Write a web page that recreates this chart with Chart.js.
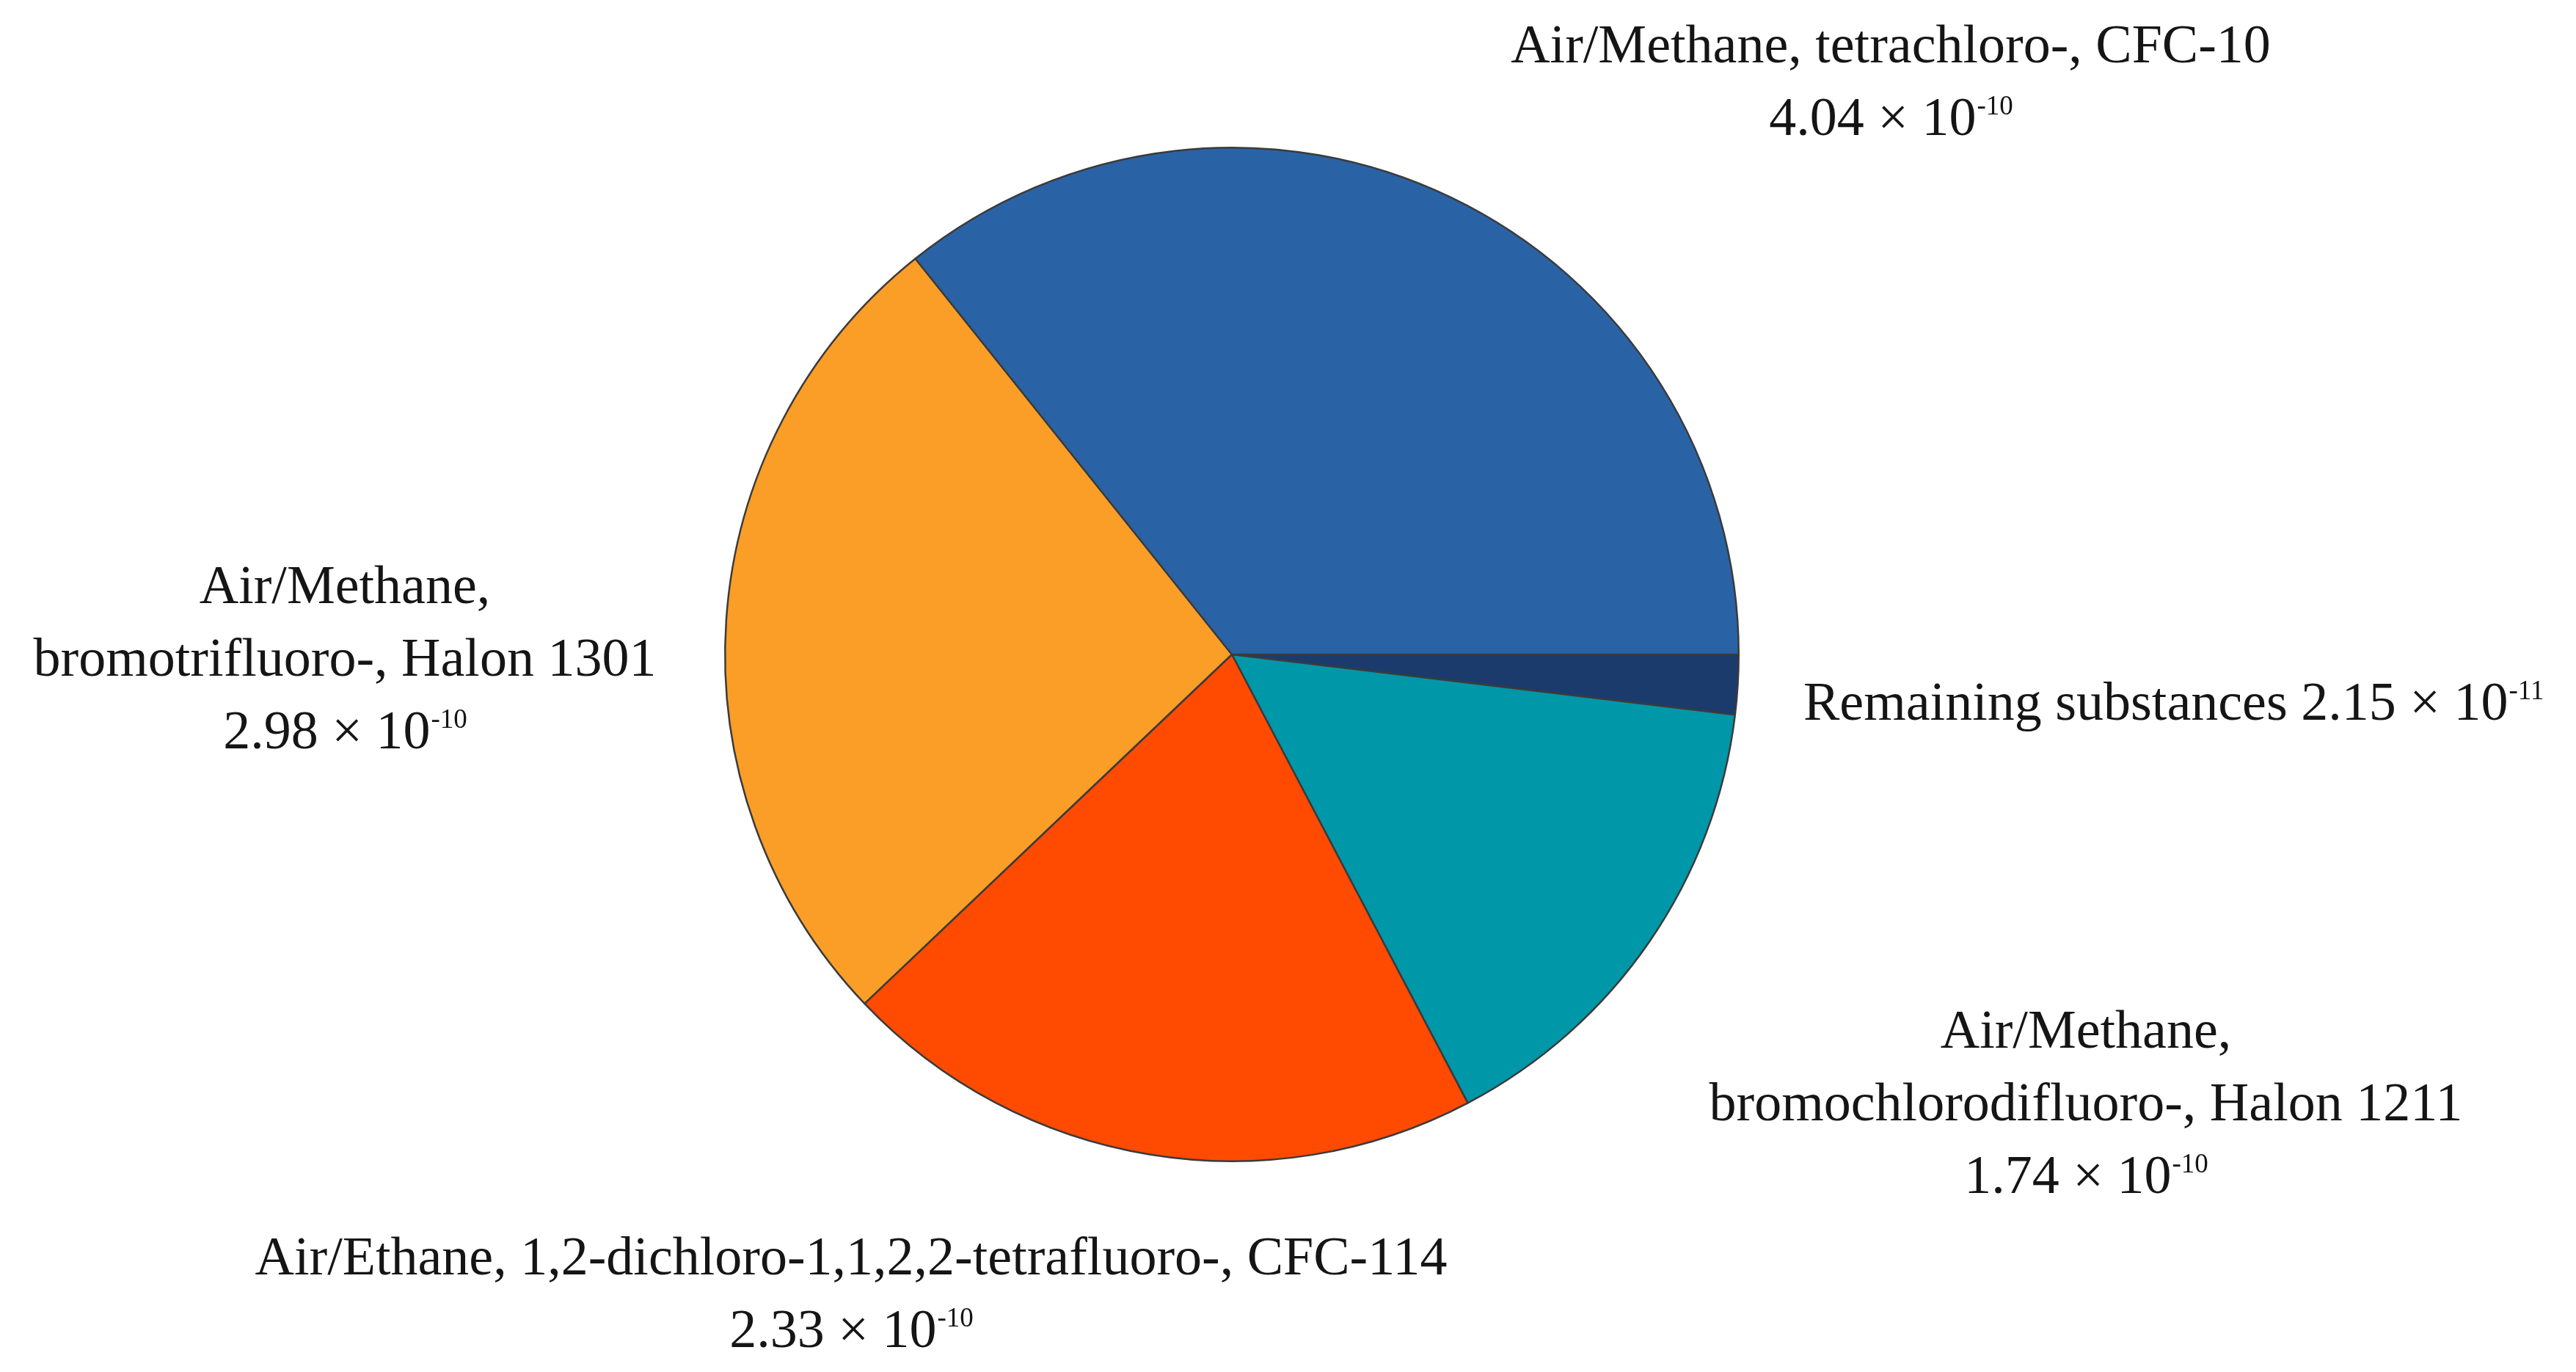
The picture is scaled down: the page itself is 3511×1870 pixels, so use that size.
<!DOCTYPE html>
<html>
<head>
<meta charset="utf-8">
<script src="https://cdn.jsdelivr.net/npm/chart.js@4.4.0/dist/chart.umd.min.js"></script>
<style>
html,body{margin:0;padding:0;background:#fff;}
#wrap{width:3511px;height:1870px;position:relative;}
</style>
</head>
<body>
<div id="wrap"><canvas id="c" width="3511" height="1870"></canvas></div>
<script>
// Slices listed clockwise starting from the 3 o'clock direction
const categories = [
  "Remaining substances",
  "Air/Methane, bromochlorodifluoro-, Halon 1211",
  "Air/Ethane, 1,2-dichloro-1,1,2,2-tetrafluoro-, CFC-114",
  "Air/Methane, bromotrifluoro-, Halon 1301",
  "Air/Methane, tetrachloro-, CFC-10"
];
const values = [2.15e-11, 1.74e-10, 2.33e-10, 2.98e-10, 4.04e-10];
const labelLines = [
  ["Remaining substances"],
  ["Air/Methane,", "bromochlorodifluoro-, Halon 1211"],
  ["Air/Ethane, 1,2-dichloro-1,1,2,2-tetrafluoro-, CFC-114"],
  ["Air/Methane,", "bromotrifluoro-, Halon 1301"],
  ["Air/Methane, tetrachloro-, CFC-10"]
];
const colors = ["#1a3b6c", "#0097a9", "#ff4a02", "#fb9e27", "#2a63a5"];

// label text placement (text layout only)
const labelPlacement = [
  {x: 2458, y: 981, align: "left", inline: true},
  {x: 2843, y: 1428, align: "center"},
  {x: 1160, y: 1737, align: "center"},
  {x: 470, y: 822, align: "center"},
  {x: 2577, y: 85, align: "center"}
];
const FONT = "'Liberation Serif', 'Times New Roman', serif";
const FS = 74;
const LH = 99;
const SUP = 0.5;

function sci(v) {
  const e = Math.floor(Math.log10(v) + 1e-9);
  const m = v / Math.pow(10, e);
  return {m: m.toFixed(2), e: String(e)};
}

function drawValue(ctx, x, y, v, align) {
  const s = sci(v);
  const base = s.m + " \u00d7 10";
  ctx.font = FS + "px " + FONT;
  const wb = ctx.measureText(base).width;
  ctx.font = Math.round(FS * SUP) + "px " + FONT;
  const we = ctx.measureText(s.e).width;
  let x0 = align === "center" ? x - (wb + we) / 2 : x;
  ctx.textAlign = "left";
  ctx.font = FS + "px " + FONT;
  ctx.fillText(base, x0, y);
  ctx.font = Math.round(FS * SUP) + "px " + FONT;
  ctx.fillText(s.e, x0 + wb + 1, y - FS * 0.38);
  return wb + we;
}

const labelPlugin = {
  id: "pieLabels",
  afterDraw(chart) {
    const ctx = chart.ctx;
    ctx.save();
    ctx.fillStyle = "#151515";
    ctx.textBaseline = "alphabetic";
    labelLines.forEach((lines, i) => {
      const p = labelPlacement[i];
      if (p.inline) {
        ctx.font = FS + "px " + FONT;
        ctx.textAlign = "left";
        const t = lines[0] + " ";
        ctx.fillText(t, p.x, p.y);
        const w = ctx.measureText(t).width;
        drawValue(ctx, p.x + w, p.y, values[i], "left");
      } else {
        lines.forEach((ln, k) => {
          ctx.font = FS + "px " + FONT;
          ctx.textAlign = "center";
          ctx.fillText(ln, p.x, p.y + k * LH);
        });
        drawValue(ctx, p.x, p.y + lines.length * LH, values[i], "center");
      }
    });
    ctx.restore();
  }
};

new Chart(document.getElementById("c"), {
  type: "pie",
  data: {
    labels: categories,
    datasets: [{
      data: values,
      backgroundColor: colors,
      borderColor: "#3b3b3b",
      borderWidth: 2.5
    }]
  },
  options: {
    responsive: false,
    animation: false,
    rotation: 90,
    layout: {padding: {left: 987, right: 1140, top: 200, bottom: 286}},
    plugins: {
      legend: {display: false},
      tooltip: {enabled: false}
    }
  },
  plugins: [labelPlugin]
});
</script>
</body>
</html>
